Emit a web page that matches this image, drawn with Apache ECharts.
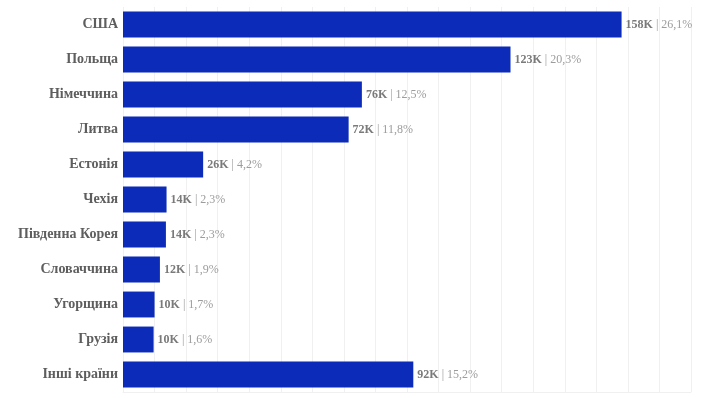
<!DOCTYPE html>
<html>
<head>
<meta charset="utf-8">
<script src="https://cdn.jsdelivr.net/npm/echarts@6/dist/echarts.min.js"></script>
<style>
  html, body { margin: 0; padding: 0; background: #fff; }
  #chart { width: 720px; height: 398px; }
</style>
</head>
<body>
<div id="chart"></div>
<script>
// країни (зверху вниз)
var countries = ['США', 'Польща', 'Німеччина', 'Литва', 'Естонія', 'Чехія',
  'Південна Корея', 'Словаччина', 'Угорщина', 'Грузія', 'Інші країни'];
// значення, тис.
var values = [158, 122.8, 75.7, 71.5, 25.4, 13.8, 13.6, 11.7, 10, 9.7, 92];
// підписи біля стовпчиків
var valueLabels = ['158K', '123K', '76K', '72K', '26K', '14K', '14K', '12K', '10K', '10K', '92K'];
var shares = ['26,1%', '20,3%', '12,5%', '11,8%', '4,2%', '2,3%', '2,3%', '1,9%', '1,7%', '1,6%', '15,2%'];

var chart = echarts.init(document.getElementById('chart'));

var option = {
  animation: false,
  backgroundColor: '#fff',
  grid: {
    left: 123,
    right: 29,
    top: 7,
    bottom: 6
  },
  xAxis: {
    type: 'value',
    min: 0,
    max: 180,
    interval: 10,
    axisLabel: { show: false },
    axisTick: { show: false },
    axisLine: { show: true, lineStyle: { color: '#f0f0f0' } },
    splitLine: { lineStyle: { color: '#f0f0f0', width: 1 } }
  },
  yAxis: {
    type: 'category',
    inverse: true,
    data: countries,
    axisTick: { show: false },
    axisLine: { show: false },
    axisLabel: {
      color: '#5e5e5e',
      fontFamily: 'Liberation Serif',
      fontWeight: 'bold',
      fontSize: 14,
      margin: 5
    }
  },
  series: [
    {
      type: 'bar',
      data: values,
      barCategoryGap: '26%',
      itemStyle: { color: '#0b2bb8' },
      label: {
        show: true,
        position: 'right',
        distance: 4,
        formatter: function (p) {
          return '{v|' + valueLabels[p.dataIndex] + '}{p| | ' + shares[p.dataIndex] + '}';
        },
        rich: {
          v: { color: '#7a7a7a', fontWeight: 'bold', fontFamily: 'Liberation Serif', fontSize: 12 },
          p: { color: '#9c9c9c', fontFamily: 'Liberation Serif', fontSize: 12 }
        }
      }
    }
  ]
};

chart.setOption(option);
</script>
</body>
</html>
